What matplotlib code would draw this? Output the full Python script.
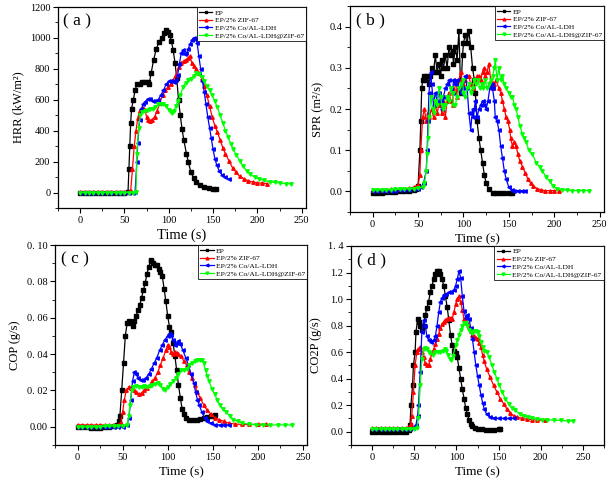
import matplotlib
matplotlib.use("Agg")
import matplotlib.pyplot as plt
from matplotlib.ticker import MultipleLocator, AutoMinorLocator, FixedLocator, FixedFormatter

plt.rcParams['font.family'] = ['Liberation Serif', 'DejaVu Serif']

labels = ["EP", "EP/2% ZIF-67", "EP/2% Co/AL-LDH", "EP/2% Co/AL-LDH@ZIF-67"]

# (time s, value) pairs
hrr_ep = [(0,0),(5,0),(10,0),(15,0),(20,0),(25,0),(30,0),(35,0),(40,0),(45,0),(50,0),(54,5),(55,150),(56,300),(57,450),
          (58,540),(60,600),(62,660),(64,700),(67,705),(70,712),(73,718),(76,712),(78,705),(80,770),(83,860),(86,930),
          (89,975),(92,1000),(95,1030),(97,1050),(99,1040),(101,1020),(103,980),(105,920),(107,840),(109,740),(111,600),
          (113,500),(115,410),(117,340),(120,250),(122,200),(125,130),(128,95),(131,70),(135,50),(140,38),(145,30),
          (150,26),(153,25)]
hrr_zif = [(0,5),(5,5),(10,5),(15,5),(20,5),(25,5),(30,5),(35,5),(40,5),(45,5),(50,5),(55,5),(57,10),(59,150),(61,300),
           (63,400),(65,480),(67,530),(69,540),(71,545),(73,535),(75,490),(77,470),(79,465),(81,470),(84,490),(87,530),
           (90,580),(93,630),(96,660),(99,680),(102,700),(105,730),(108,760),(111,810),(114,840),(117,850),(120,860),
           (122,870),(124,880),(126,840),(128,820),(131,800),(134,770),(137,740),(140,690),(143,630),(146,560),(149,490),
           (152,430),(155,390),(158,340),(161,290),(164,250),(168,205),(172,160),(176,130),(180,105),(185,88),(190,75),
           (195,68),(200,63),(205,60),(211,58)]
hrr_ldh = [(0,0),(5,0),(10,0),(15,0),(20,0),(25,0),(30,0),(35,0),(40,0),(45,0),(50,0),(55,0),(60,0),(62,5),(64,200),
           (65,320),(67,470),(69,540),(71,570),(73,585),(76,605),(79,602),(82,595),(85,590),(88,600),(91,630),(94,660),
           (97,700),(100,720),(103,720),(106,715),(108,730),(110,760),(112,830),(114,900),(116,920),(118,895),(120,900),
           (122,930),(124,960),(126,985),(128,1000),(130,990),(132,970),(134,880),(136,800),(138,720),(140,650),(142,570),
           (144,490),(146,420),(148,350),(150,280),(152,220),(154,180),(157,140),(160,115),(164,100),(168,85)]
hrr_ldhzif = [(0,0),(5,0),(10,0),(15,0),(20,0),(25,0),(30,0),(35,0),(40,0),(45,0),(50,0),(55,0),(60,0),(63,5),(64,250),
              (66,420),(68,500),(70,520),(73,530),(76,535),(79,540),(82,540),(85,555),(88,570),(91,575),(94,570),(97,560),
              (100,535),(102,520),(104,515),(106,530),(108,560),(110,590),(113,630),(116,680),(119,710),(122,725),
              (125,735),(128,755),(131,770),(134,765),(137,745),(140,720),(143,690),(146,660),(149,630),(152,590),
              (155,550),(158,500),(161,450),(164,400),(167,360),(170,315),(173,280),(176,245),(180,205),(184,170),
              (188,140),(192,118),(197,100),(202,88),(208,78),(214,70),(220,65),(226,62),(232,58),(238,55)]

spr_ep = [(0,-0.003),(5,-0.003),(10,-0.003),(15,-0.002),(20,-0.002),(25,-0.001),(30,0.0),(35,0.001),(40,0.002),(45,0.004),
          (48,0.007),(50,0.012),(52,0.1),(53,0.17),(54,0.25),(55,0.27),(56,0.28),(58,0.27),(60,0.28),(62,0.26),(63,0.28),
          (65,0.30),(67,0.29),(69,0.33),(71,0.29),(73,0.31),(75,0.28),(76,0.32),(78,0.30),(80,0.33),(82,0.30),(84,0.35),
          (86,0.33),(88,0.34),(89,0.31),(91,0.35),(93,0.32),(95,0.39),(97,0.24),(99,0.33),(100,0.36),(102,0.38),(104,0.36),
          (106,0.39),(108,0.35),(110,0.30),(112,0.27),(113,0.24),(115,0.17),(117,0.13),(119,0.10),(121,0.07),(123,0.04),
          (125,0.02),(128,0.005),(132,-0.003),(136,-0.004),(140,-0.005),(145,-0.004),(150,-0.003),(153,-0.003)]
spr_zif = [(0,0.003),(5,0.003),(10,0.004),(15,0.004),(20,0.005),(25,0.005),(30,0.006),(35,0.007),(40,0.008),(45,0.01),
           (50,0.015),(52,0.04),(53,0.1),(55,0.18),(57,0.20),(59,0.17),(61,0.19),(62,0.18),(65,0.20),(67,0.18),(69,0.21),
           (71,0.19),(73,0.21),(75,0.22),(76,0.19),(78,0.22),(80,0.18),(82,0.22),(84,0.24),(86,0.22),(88,0.21),(89,0.25),
           (91,0.27),(93,0.23),(95,0.27),(97,0.29),(99,0.26),(102,0.27),(104,0.28),(106,0.28),(108,0.26),(110,0.25),
           (113,0.27),(115,0.28),(117,0.28),(119,0.27),(121,0.29),(123,0.30),(124,0.28),(126,0.29),(128,0.31),(130,0.27),
           (132,0.25),(134,0.26),(136,0.27),(139,0.25),(141,0.24),(143,0.22),(145,0.20),(147,0.18),(149,0.17),(151,0.15),
           (152,0.13),(154,0.11),(156,0.12),(158,0.11),(160,0.09),(162,0.075),(165,0.06),(168,0.045),(171,0.03),
           (174,0.02),(177,0.013),(181,0.007),(185,0.004),(190,0.002),(195,0.002),(200,0.002),(205,0.002)]
spr_ldh = [(0,0.0),(5,0.0),(10,0.001),(15,0.001),(20,0.002),(25,0.002),(30,0.003),(35,0.003),(40,0.004),(45,0.005),
           (50,0.007),(53,0.01),(56,0.02),(59,0.05),(60,0.10),(61,0.17),(62,0.24),(64,0.29),(65,0.26),(67,0.21),(69,0.24),
           (71,0.22),(73,0.24),(75,0.22),(76,0.20),(78,0.23),(80,0.25),(82,0.26),(84,0.27),(86,0.25),(88,0.24),(89,0.27),
           (91,0.26),(93,0.27),(95,0.25),(97,0.24),(99,0.25),(102,0.28),(104,0.25),(106,0.19),(108,0.15),(110,0.20),
           (111,0.18),(113,0.22),(115,0.18),(117,0.20),(119,0.21),(121,0.22),(123,0.21),(125,0.20),(127,0.22),(129,0.25),
           (131,0.26),(132,0.25),(134,0.22),(135,0.18),(137,0.17),(139,0.15),(141,0.11),(143,0.08),(145,0.05),(147,0.03),
           (150,0.01),(153,0.004),(156,0.002),(160,0.002),(164,0.002),(168,0.002)]
spr_ldhzif = [(0,0.003),(5,0.003),(10,0.004),(15,0.004),(20,0.004),(25,0.005),(30,0.005),(35,0.006),(40,0.006),
              (45,0.007),(50,0.008),(55,0.01),(57,0.02),(59,0.05),(60,0.09),(61,0.13),(62,0.18),(64,0.23),(66,0.20),
              (67,0.19),(69,0.22),(71,0.21),(73,0.25),(75,0.23),(76,0.21),(78,0.20),(80,0.21),(82,0.23),(84,0.22),
              (86,0.25),(88,0.24),(89,0.21),(91,0.21),(93,0.23),(95,0.25),(97,0.26),(99,0.27),(100,0.24),(102,0.23),
              (104,0.25),(106,0.26),(108,0.24),(110,0.25),(112,0.27),(114,0.26),(116,0.27),(118,0.25),(120,0.26),
              (122,0.25),(124,0.27),(126,0.25),(128,0.26),(130,0.27),(132,0.28),(134,0.30),(135,0.32),(137,0.27),
              (139,0.30),(141,0.27),(143,0.28),(145,0.26),(147,0.25),(150,0.24),(152,0.23),(154,0.23),(156,0.21),
              (158,0.20),(160,0.18),(162,0.16),(165,0.14),(167,0.13),(169,0.12),(172,0.10),(176,0.09),(180,0.07),
              (184,0.06),(187,0.05),(191,0.035),(195,0.025),(199,0.012),(203,0.006),(208,0.004),(214,0.003),
              (220,0.002),(226,0.002),(232,0.002),(238,0.002)]

cop_ep = [(0,-0.0002),(5,-0.0002),(10,-0.0003),(15,-0.0004),(20,-0.0005),(25,-0.0005),(30,-0.0002),(35,0.0),(40,0.0002),
          (44,0.001),(46,0.003),(47,0.006),(49,0.02),(51,0.035),(53,0.05),(55,0.057),(57,0.058),(59,0.057),(61,0.0555),
          (63,0.058),(65,0.061),(67,0.064),(69,0.067),(71,0.071),(73,0.075),(75,0.079),(77,0.084),(79,0.088),(81,0.091),
          (82,0.092),(84,0.090),(86,0.089),(88,0.089),(90,0.087),(92,0.085),(94,0.083),(96,0.076),(98,0.069),(100,0.061),
          (102,0.055),(104,0.052),(106,0.046),(108,0.039),(110,0.031),(112,0.023),(114,0.016),(116,0.010),(118,0.007),
          (120,0.005),(124,0.004),(128,0.0038),(132,0.004),(136,0.0045),(140,0.005),(144,0.0055),(148,0.006),(153,0.0065)]
cop_zif = [(0,0.001),(5,0.001),(10,0.001),(15,0.001),(20,0.001),(25,0.001),(30,0.001),(35,0.001),(40,0.001),(45,0.001),
           (48,0.002),(50,0.008),(52,0.015),(54,0.02),(57,0.022),(59,0.0215),(61,0.021),(63,0.02),(65,0.019),(68,0.018),
           (71,0.0185),(74,0.02),(77,0.0215),(80,0.023),(83,0.025),(86,0.027),(89,0.030),(92,0.034),(95,0.038),(98,0.042),
           (100,0.045),(102,0.044),(104,0.041),(106,0.040),(108,0.041),(110,0.0405),(112,0.040),(115,0.039),(118,0.036),
           (121,0.034),(124,0.030),(127,0.027),(130,0.023),(133,0.019),(136,0.016),(140,0.012),(144,0.009),(148,0.007),
           (152,0.005),(157,0.004),(162,0.003),(168,0.002),(175,0.0015),(183,0.0013),(190,0.0013),(200,0.0014),
           (209,0.0015)]
cop_ldh = [(0,0.0),(5,0.0),(10,0.0),(15,0.0),(20,0.0),(25,0.0),(30,0.0),(35,0.0),(40,0.0),(45,0.0),(50,0.0),(55,0.001),
           (57,0.005),(59,0.015),(61,0.025),(63,0.030),(65,0.029),(67,0.027),(70,0.0255),(73,0.0255),(76,0.027),
           (79,0.029),(82,0.032),(85,0.035),(88,0.038),(91,0.042),(94,0.045),(97,0.048),(100,0.050),(102,0.051),
           (104,0.0505),(106,0.048),(108,0.045),(110,0.046),(112,0.047),(114,0.0455),(117,0.042),(120,0.038),
           (123,0.034),(126,0.029),(129,0.024),(131,0.019),(133,0.015),(135,0.012),(138,0.008),(141,0.005),(144,0.003),
           (148,0.002),(153,0.0012),(158,0.001),(163,0.001),(168,0.001)]
cop_ldhzif = [(0,0.0),(5,0.0),(10,0.0),(15,0.0),(20,0.0),(25,0.0),(30,0.0003),(35,0.0005),(40,0.0005),(45,0.0005),
              (50,0.0006),(55,0.001),(57,0.006),(58,0.012),(60,0.02),(62,0.022),(65,0.0225),(68,0.022),(71,0.022),
              (74,0.0222),(77,0.022),(80,0.0225),(83,0.023),(86,0.0235),(89,0.024),(92,0.023),(95,0.021),(97,0.0205),
              (100,0.022),(103,0.0235),(106,0.025),(109,0.027),(112,0.029),(115,0.031),(118,0.031),(121,0.032),
              (124,0.034),(127,0.035),(130,0.036),(133,0.037),(136,0.037),(138,0.037),(140,0.035),(142,0.031),
              (144,0.028),(146,0.025),(149,0.021),(152,0.018),(155,0.015),(158,0.012),(161,0.010),(165,0.008),
              (169,0.006),(173,0.004),(178,0.003),(183,0.002),(190,0.0015),(198,0.001),(206,0.001),(214,0.001),
              (222,0.001),(230,0.001),(238,0.001)]

co2p_ep = [(0,0.0),(5,0.0),(10,0.0),(15,0.0),(20,0.0),(25,0.0),(30,0.0),(35,0.0),(40,0.0),(44,0.01),(45,0.05),(46,0.2),
           (48,0.35),(49,0.5),(51,0.6),(52,0.75),(54,0.85),(56,0.83),(57,0.80),(59,0.77),(61,0.80),(63,0.88),(65,0.93),
           (67,0.98),(69,1.05),(71,1.10),(73,1.15),(75,1.19),(77,1.21),(79,1.21),(81,1.19),(83,1.15),(85,1.10),(87,1.02),
           (89,0.94),(91,0.84),(93,0.73),(95,0.65),(97,0.61),(99,0.59),(101,0.56),(103,0.48),(105,0.40),(107,0.32),
           (109,0.25),(111,0.18),(113,0.13),(115,0.09),(117,0.06),(119,0.04),(122,0.03),(126,0.02),(130,0.018),
           (135,0.015),(140,0.015),(145,0.016),(150,0.018),(152,0.02)]
co2p_zif = [(0,0.03),(5,0.03),(10,0.03),(15,0.03),(20,0.03),(25,0.03),(30,0.03),(35,0.03),(40,0.03),(44,0.035),(46,0.06),
            (47,0.12),(49,0.3),(51,0.5),(53,0.6),(55,0.62),(57,0.64),(59,0.60),(61,0.56),(63,0.52),(65,0.50),(67,0.50),
            (69,0.55),(71,0.59),(73,0.62),(75,0.66),(77,0.70),(79,0.74),(81,0.78),(83,0.81),(85,0.83),(87,0.84),(89,0.85),
            (91,0.86),(93,0.86),(95,0.85),(97,0.90),(99,0.96),(101,1.00),(103,1.02),(105,0.98),(107,0.92),(109,0.85),
            (111,0.83),(113,0.82),(115,0.79),(117,0.76),(119,0.73),(121,0.72),(123,0.71),(125,0.70),(127,0.67),
            (129,0.64),(131,0.58),(133,0.53),(136,0.47),(140,0.41),(144,0.35),(148,0.30),(152,0.25),(156,0.21),
            (160,0.17),(164,0.14),(168,0.12),(172,0.11),(178,0.10),(184,0.095),(190,0.09),(196,0.087),(205,0.085)]
co2p_ldh = [(0,0.02),(5,0.02),(10,0.02),(15,0.02),(20,0.02),(25,0.02),(30,0.02),(35,0.02),(40,0.02),(45,0.02),(49,0.03),
            (52,0.05),(54,0.12),(55,0.2),(57,0.45),(59,0.75),(61,0.84),(63,0.80),(65,0.72),(67,0.69),(70,0.68),(73,0.69),
            (75,0.72),(77,0.80),(79,0.90),(81,0.98),(83,1.01),(85,1.03),(88,1.04),(91,1.05),(94,1.05),(97,1.07),
            (99,1.10),(101,1.15),(103,1.21),(105,1.16),(107,1.02),(109,0.91),(111,0.86),(113,0.88),(115,0.85),
            (117,0.78),(119,0.70),(121,0.60),(123,0.50),(125,0.42),(127,0.35),(129,0.28),(131,0.22),(133,0.17),
            (136,0.13),(140,0.11),(145,0.105),(150,0.10),(156,0.10),(162,0.10),(168,0.10)]
co2p_ldhzif = [(0,0.02),(5,0.02),(10,0.02),(15,0.02),(20,0.02),(25,0.02),(30,0.02),(35,0.02),(40,0.02),(45,0.02),
               (50,0.02),(53,0.03),(55,0.1),(57,0.35),(59,0.55),(61,0.62),(63,0.63),(65,0.62),(67,0.60),(69,0.59),
               (72,0.58),(75,0.60),(78,0.60),(81,0.60),(84,0.61),(86,0.62),(88,0.61),(90,0.58),(92,0.55),(94,0.54),
               (96,0.57),(99,0.65),(101,0.69),(103,0.73),(105,0.77),(107,0.80),(109,0.82),(111,0.82),(113,0.80),
               (115,0.77),(117,0.75),(119,0.745),(121,0.76),(123,0.76),(125,0.75),(127,0.72),(129,0.68),(131,0.64),
               (133,0.61),(136,0.60),(139,0.56),(142,0.50),(145,0.45),(148,0.40),(151,0.35),(154,0.30),(158,0.25),
               (162,0.21),(166,0.18),(170,0.16),(175,0.135),(180,0.12),(185,0.11),(190,0.10),(196,0.095),(202,0.092),
               (208,0.09),(216,0.087),(224,0.085),(232,0.082),(238,0.08)]

colors = ['black', '#ff0000', '#0000ff', '#00ff00']
markers = ['s', '^', '<', 'v']

fig = plt.figure(figsize=(6.14, 4.83), dpi=100)

panels = [
    # series, rect, xlim, ylim, yticks, ylabel, tag, xlabel fontsize, tick label strings
    ([hrr_ep, hrr_zif, hrr_ldh, hrr_ldhzif], [0.0945, 0.5694, 0.404, 0.4161], (-25, 255), (-100, 1200),
     [0, 200, 400, 600, 800, 1000, 1200], "HRR (kW/m²)", "( a )", 10.5, None),
    ([spr_ep, spr_zif, spr_ldh, spr_ldhzif], [0.570, 0.561, 0.414, 0.4265], (-25, 255), (-0.05, 0.45),
     [0.0, 0.1, 0.2, 0.3, 0.4], "SPR (m²/s)", "( b )", 9.5, ["0.0", "0.1", "0.2", "0.3", "0.4"]),
    ([cop_ep, cop_zif, cop_ldh, cop_ldhzif], [0.0896, 0.0787, 0.411, 0.414], (-25, 255), (-0.01, 0.10),
     [0.0, 0.02, 0.04, 0.06, 0.08, 0.10], "COP (g/s)", "( c )", 9.5,
     ["0.00", "0. 02", "0. 04", "0. 06", "0. 08", "0. 10"]),
    ([co2p_ep, co2p_zif, co2p_ldh, co2p_ldhzif], [0.5717, 0.0787, 0.412, 0.412], (-25, 275), (-0.1, 1.4),
     [0.0, 0.2, 0.4, 0.6, 0.8, 1.0, 1.2, 1.4], "CO2P (g/s)", "( d )", 9.5,
     ["0.0", "0.2", "0.4", "0.6", "0.8", "1.0", "1.2", "1. 4"]),
]

for series, rect, xlim, ylim, yticks, ylabel, tag, xfs, ytl in panels:
    ax = fig.add_axes(rect)
    for data, c, m, lab in zip(series, colors, markers, labels):
        t = [p[0] for p in data]
        v = [p[1] for p in data]
        ax.plot(t, v, color=c, marker=m, markersize=2.5, linewidth=0.9, label=lab)
    ax.set_xlim(*xlim)
    ax.set_ylim(*ylim)
    ax.xaxis.set_major_locator(MultipleLocator(50))
    ax.xaxis.set_minor_locator(MultipleLocator(25))
    ax.yaxis.set_major_locator(FixedLocator(yticks))
    if ytl is not None:
        ax.yaxis.set_major_formatter(FixedFormatter(ytl))
    ax.yaxis.set_minor_locator(AutoMinorLocator(2))
    ax.tick_params(which='major', direction='out', length=3.5, width=0.8, labelsize=7.5, pad=2)
    ax.tick_params(which='minor', direction='out', length=2, width=0.6)
    for s in ax.spines.values():
        s.set_linewidth(0.9)
    ax.set_xlabel("Time (s)", fontsize=xfs, labelpad=3)
    ax.set_ylabel(ylabel, fontsize=9, labelpad=4)
    ax.text(0.022, 0.97, tag, transform=ax.transAxes, fontsize=12.5, va='top', ha='left')
    leg = ax.legend(loc='upper right', fontsize=5.4, borderaxespad=0, frameon=True, fancybox=False,
                    handlelength=1.8, handletextpad=0.3, labelspacing=0.2, borderpad=0.3, markerscale=0.8)
    leg.get_frame().set_edgecolor('black')
    leg.get_frame().set_linewidth(0.7)

fig.savefig("out.png", dpi=100)
